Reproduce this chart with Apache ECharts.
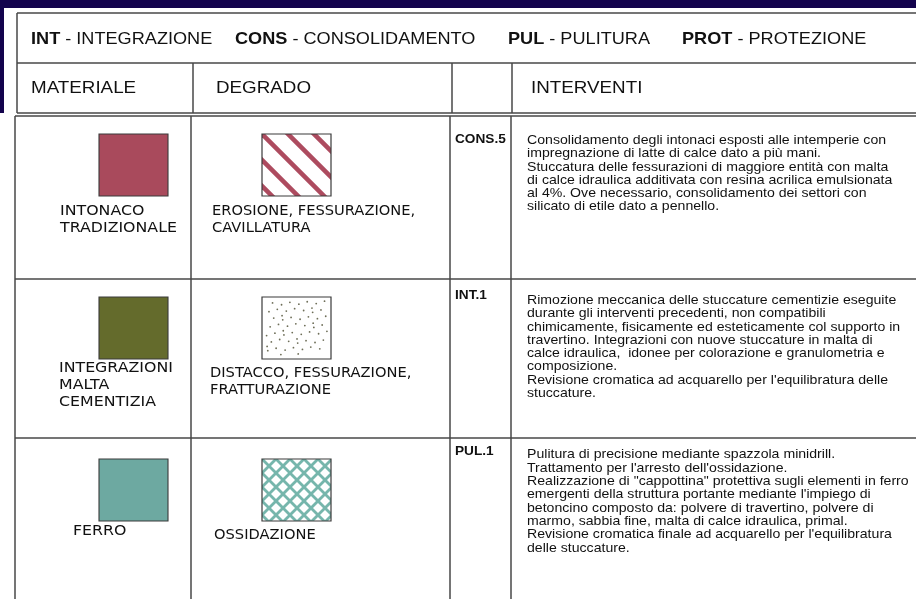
<!DOCTYPE html>
<html><head><meta charset="utf-8">
<script src="https://cdn.jsdelivr.net/npm/echarts@6/dist/echarts.min.js"></script>
<style>html,body{margin:0;padding:0;background:#fff}#c{width:916px;height:599px}</style>
</head><body><div id="c"></div>
<script>
// ---------- DATA ----------
const legendCodes = ['INT', 'CONS', 'PUL', 'PROT'];
const legendNames = ['INTEGRAZIONE', 'CONSOLIDAMENTO', 'PULITURA', 'PROTEZIONE'];
const headerLabels = ['MATERIALE', 'DEGRADO', '', 'INTERVENTI'];
const materiali = [['INTONACO', 'TRADIZIONALE'], ['INTEGRAZIONI', 'MALTA', 'CEMENTIZIA'], ['FERRO']];
const degradi = [['EROSIONE, FESSURAZIONE,', 'CAVILLATURA'], ['DISTACCO, FESSURAZIONE,', 'FRATTURAZIONE'], ['OSSIDAZIONE']];
const codici = ['CONS.5', 'INT.1', 'PUL.1'];
const interventi = [
  ['Consolidamento degli intonaci esposti alle intemperie con',
   'impregnazione di latte di calce dato a più mani.',
   'Stuccatura delle fessurazioni di maggiore entità con malta',
   'di calce idraulica additivata con resina acrilica emulsionata',
   'al 4%. Ove necessario, consolidamento dei settori con',
   'silicato di etile dato a pennello.'],
  ['Rimozione meccanica delle stuccature cementizie eseguite',
   'durante gli interventi precedenti, non compatibili',
   'chimicamente, fisicamente ed esteticamente col supporto in',
   'travertino. Integrazioni con nuove stuccature in malta di',
   'calce idraulica,  idonee per colorazione e granulometria e',
   'composizione.',
   'Revisione cromatica ad acquarello per l\'equilibratura delle',
   'stuccature.'],
  ['Pulitura di precisione mediante spazzola minidrill.',
   'Trattamento per l\'arresto dell\'ossidazione.',
   'Realizzazione di "cappottina" protettiva sugli elementi in ferro',
   'emergenti della struttura portante mediante l\'impiego di',
   'betoncino composto da: polvere di travertino, polvere di',
   'marmo, sabbia fine, malta di calce idraulica, primal.',
   'Revisione cromatica finale ad acquarello per l\'equilibratura',
   'delle stuccature.']
];
const campiture = ['righe', 'punti', 'reticolo'];

// ---------- STYLE ----------
const STYLE = {
  navy: '#13034d', line: '#474747', ink: '#111111',
  materialColors: ['#a94a5c', '#646b2c', '#6da9a1'],
  patternColors: { righe: '#ad4b5f', punti: '#6e6e58', reticolo: '#76b6ac' },
  sans: '"Liberation Sans", Arial, sans-serif',
  geo: '"DejaVu Sans", sans-serif',
  sx: 1.12, geoSx: 1.18, degSx: 1.095
};

// ---------- LAYOUT ----------
const L = {
  navyH: 8, navyStripW: 4, navyStripH: 113,
  headTop: 13, legendBottom: 63, headBottom: 113,
  headCols: [17, 193, 452, 512], right: 916,
  bodyTop: 116, bodyBottom: 599, bodyCols: [15, 191, 450, 511],
  rowTops: [116, 279, 438],
  legendX: [31, 235, 508, 682], legendY: 40,
  headerX: [31, 216, null, 531], headerY: 88,
  swatchX: 99, patternX: 262, swatchW: 69, swatchH: 62,
  swatchY: [134, 297, 459],
  matX: [60, 59, 73], matY: [212, 369, 532],
  degX: [212, 210, 214], degY: [212, 374, 536],
  codeX: 455, codeY: [140, 296, 452],
  textX: 527, textY: [140.5, 300.5, 455],
  lineH: 13.3, labelLineH: 17
};

// ---------- HELPERS ----------
function P(api, x, y) { return api.coord([x, y]); }
function line(api, x1, y1, x2, y2, w) {
  const a = P(api, x1, y1), b = P(api, x2, y2);
  return { type: 'line', shape: { x1: a[0], y1: a[1], x2: b[0], y2: b[1] },
    style: { stroke: STYLE.line, lineWidth: w || 1.5 } };
}
function text(api, x, y, str, o) {
  const p = P(api, x, y);
  const st = Object.assign({
    text: str, x: 0, y: 0, fill: STYLE.ink,
    fontFamily: STYLE.sans, fontSize: 12.6, fontWeight: 'normal',
    align: 'left', verticalAlign: 'middle', textAlign: 'left', textVerticalAlign: 'middle'
  }, o.style || {});
  return { type: 'text', x: p[0], y: p[1], scaleX: o.sx || STYLE.sx, style: st };
}
function clipPoly(pts, x0, y0, x1, y1) {
  const edges = [
    [p => p[0] >= x0, (a, b) => { const t = (x0 - a[0]) / (b[0] - a[0]); return [x0, a[1] + t * (b[1] - a[1])]; }],
    [p => p[0] <= x1, (a, b) => { const t = (x1 - a[0]) / (b[0] - a[0]); return [x1, a[1] + t * (b[1] - a[1])]; }],
    [p => p[1] >= y0, (a, b) => { const t = (y0 - a[1]) / (b[1] - a[1]); return [a[0] + t * (b[0] - a[0]), y0]; }],
    [p => p[1] <= y1, (a, b) => { const t = (y1 - a[1]) / (b[1] - a[1]); return [a[0] + t * (b[0] - a[0]), y1]; }]
  ];
  let out = pts;
  for (const [inside, inter] of edges) {
    const inp = out; out = [];
    if (!inp.length) break;
    for (let i = 0; i < inp.length; i++) {
      const cur = inp[i], prev = inp[(i + inp.length - 1) % inp.length];
      const ci = inside(cur), pi = inside(prev);
      if (ci) { if (!pi) out.push(inter(prev, cur)); out.push(cur); }
      else if (pi) out.push(inter(prev, cur));
    }
  }
  return out;
}
function bands(a, b, dir, spacing, width, color) {
  const h = width / 2 * Math.SQRT2, els = [];
  const xa = a[0], ya = a[1], xb = b[0], yb = b[1];
  const span = (xb - xa) + (yb - ya);
  for (let k = -Math.ceil(span / spacing) - 1; k <= Math.ceil(span / spacing) + 1; k++) {
    const c = k * spacing;
    const X1 = xa - 200, X2 = xb + 200;
    const f = (X, off) => dir > 0 ? ya + (X - xa) + c + off : ya - (X - xa) + c + off;
    const poly = clipPoly([[X1, f(X1, -h)], [X2, f(X2, -h)], [X2, f(X2, h)], [X1, f(X1, h)]], xa, ya, xb, yb);
    if (poly.length >= 3) els.push({ type: 'polygon', shape: { points: poly }, style: { fill: color } });
  }
  return els;
}
function pattern(api, kind, x, y) {
  const a = P(api, x, y), b = P(api, x + L.swatchW, y + L.swatchH);
  const col = STYLE.patternColors[kind];
  let kids = [{ type: 'rect', shape: { x: a[0], y: a[1], width: b[0] - a[0], height: b[1] - a[1] }, style: { fill: '#fff' } }];
  if (kind === 'righe') kids = kids.concat(bands(a, b, 1, 26, 4.6, col));
  if (kind === 'reticolo') kids = kids.concat(bands(a, b, 1, 14, 2.8, col), bands(a, b, -1, 14, 2.8, col));
  if (kind === 'punti') {
    const g = 1.32471795724474602596, a1 = 1 / g, a2 = 1 / (g * g);
    const w = b[0] - a[0] - 8, hgt = b[1] - a[1] - 8;
    for (let n = 1; n <= 58; n++) {
      const u = (0.5 + a1 * n) % 1, v = (0.5 + a2 * n) % 1;
      kids.push({ type: 'circle', shape: { cx: a[0] + 4 + u * w, cy: a[1] + 4 + v * hgt, r: 0.9 }, style: { fill: col } });
    }
  }
  kids.push({ type: 'rect', shape: { x: a[0], y: a[1], width: b[0] - a[0], height: b[1] - a[1] },
    style: { fill: 'none', stroke: '#3a3a3a', lineWidth: 1.2 } });
  return kids;
}

// ---------- RENDERERS ----------
function renderFrame(params, api) {
  const R = L.right, kids = [];
  const n0 = P(api, 0, 0), n1 = P(api, R, L.navyH), s1 = P(api, L.navyStripW, L.navyStripH);
  kids.push({ type: 'rect', shape: { x: n0[0], y: n0[1], width: n1[0] - n0[0], height: n1[1] - n0[1] }, style: { fill: STYLE.navy } });
  kids.push({ type: 'rect', shape: { x: n0[0], y: n0[1], width: s1[0] - n0[0], height: s1[1] - n0[1] }, style: { fill: STYLE.navy } });
  const hc = L.headCols;
  [L.headTop, L.legendBottom, L.headBottom].forEach(y => kids.push(line(api, hc[0], y, R, y)));
  kids.push(line(api, hc[0], L.headTop, hc[0], L.headBottom));
  for (let i = 1; i < hc.length; i++) kids.push(line(api, hc[i], L.legendBottom, hc[i], L.headBottom));
  const bc = L.bodyCols;
  L.rowTops.forEach(y => kids.push(line(api, bc[0], y, R, y)));
  bc.forEach(x => kids.push(line(api, x, L.bodyTop, x, L.bodyBottom)));
  return { type: 'group', children: kids };
}
function renderHeader(params, api) {
  const kids = [];
  legendCodes.forEach((c, i) => {
    kids.push(text(api, L.legendX[i], L.legendY, '{b|' + c + '} - ' + legendNames[i], {
      style: { fontSize: 16.2, rich: { b: { fontWeight: 'bold', fontSize: 16.2, fontFamily: STYLE.sans, fill: STYLE.ink } } }
    }));
  });
  headerLabels.forEach((h, i) => {
    if (h) kids.push(text(api, L.headerX[i], L.headerY, h, { style: { fontSize: 16.8 } }));
  });
  return { type: 'group', children: kids };
}
function renderRow(params, api) {
  const i = api.value(0), kids = [];
  const s0 = P(api, L.swatchX, L.swatchY[i]), s1 = P(api, L.swatchX + L.swatchW, L.swatchY[i] + L.swatchH);
  kids.push({ type: 'rect', shape: { x: s0[0], y: s0[1], width: s1[0] - s0[0], height: s1[1] - s0[1] },
    style: { fill: STYLE.materialColors[i], stroke: '#3a3a3a', lineWidth: 1.1 } });
  kids.push.apply(kids, pattern(api, campiture[i], L.patternX, L.swatchY[i]));
  materiali[i].forEach((t, j) => kids.push(text(api, L.matX[i], L.matY[i] + j * L.labelLineH, t,
    { sx: STYLE.geoSx, style: { fontFamily: STYLE.geo, fontSize: 13.4 } })));
  degradi[i].forEach((t, j) => kids.push(text(api, L.degX[i], L.degY[i] + j * L.labelLineH, t,
    { sx: STYLE.degSx, style: { fontFamily: STYLE.geo, fontSize: 13.4 } })));
  kids.push(text(api, L.codeX, L.codeY[i], codici[i], { style: { fontWeight: 'bold', fontSize: 12.2 } }));
  interventi[i].forEach((t, j) => kids.push(text(api, L.textX, L.textY[i] + j * L.lineH, t, { style: { fontSize: 12.6 } })));
  return { type: 'group', children: kids };
}

const chart = echarts.init(document.getElementById('c'), null, { renderer: 'canvas' });
chart.setOption({
  animation: false,
  backgroundColor: '#ffffff',
  grid: { left: 0, right: 0, top: 0, bottom: 0 },
  xAxis: { type: 'value', min: 0, max: 916, show: false },
  yAxis: { type: 'value', min: 0, max: 599, inverse: true, show: false },
  series: [
    { type: 'custom', name: 'frame', silent: true, data: [[0, 0]], renderItem: renderFrame },
    { type: 'custom', name: 'header', silent: true, data: [[0, 0]], renderItem: renderHeader },
    { type: 'custom', name: 'rows', silent: true, data: codici.map((c, i) => [i, 0]), renderItem: renderRow }
  ]
});
</script></body></html>
